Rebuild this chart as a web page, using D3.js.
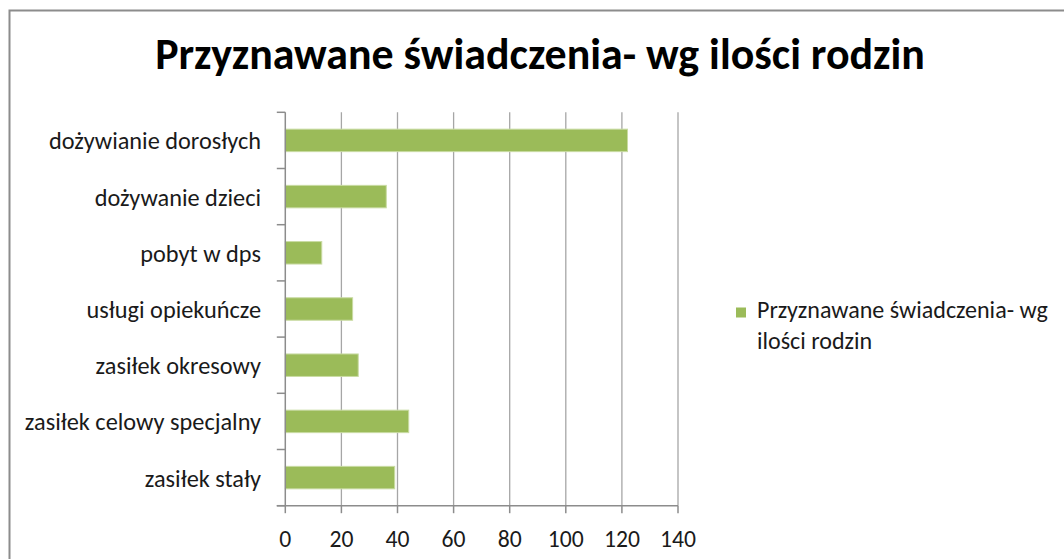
<!DOCTYPE html>
<html>
<head>
<meta charset="utf-8">
<script src="https://cdn.jsdelivr.net/npm/d3@7"></script>
<style>
  html, body { margin: 0; padding: 0; background: #fff; }
  svg { display: block; }
  text { font-family: Carlito, Lato, "Open Sans", sans-serif; }
</style>
</head>
<body>
<svg id="chart" width="1064" height="559"></svg>
<script>
const categories = ["dożywianie dorosłych", "dożywanie dzieci", "pobyt w dps", "usługi opiekuńcze", "zasiłek okresowy", "zasiłek celowy specjalny", "zasiłek stały"];
const values = [122, 36, 13, 24, 26, 44, 39];
const xTicks = [0, 20, 40, 60, 80, 100, 120, 140];
const title = "Przyznawane świadczenia- wg ilości rodzin";
const legendLines = ["Przyznawane świadczenia- wg", "ilości rodzin"];

const svg = d3.select("#chart");
const W = 1064, H = 559;
const plot = { left: 285.3, right: 678, top: 112.3, bottom: 505.7 };

// fit font size so that text matches target width
function fitSize(str, target, weight, base) {
  const t = svg.append("text").attr("font-size", base).attr("font-weight", weight).text(str);
  const w = t.node().getComputedTextLength();
  t.remove();
  return base * target / w;
}

// chart border
svg.append("path")
  .attr("d", `M9.5,${H} L9.5,10.5 L${W},10.5`)
  .attr("fill", "none").attr("stroke", "#8c8c8c").attr("stroke-width", 2);

const x = d3.scaleLinear().domain([0, 140]).range([plot.left, plot.right]);
const y = d3.scaleBand().domain(categories).range([plot.top, plot.bottom]).padding(0);

// grid lines
svg.append("g").selectAll("line").data(xTicks.filter(d => d > 0)).join("line")
  .attr("x1", d => x(d)).attr("x2", d => x(d))
  .attr("y1", plot.top).attr("y2", plot.bottom)
  .attr("stroke", "#a6a6a6").attr("stroke-width", 1.3);

// bars
svg.append("g").selectAll("rect").data(values).join("rect")
  .attr("x", x(0))
  .attr("y", (d, i) => y(categories[i]) + y.bandwidth() * 0.3)
  .attr("width", d => x(d) - x(0))
  .attr("height", y.bandwidth() * 0.4)
  .attr("fill", "#9bbb59")
  .attr("stroke", "#c9dba3").attr("stroke-width", 1);

// y axis line and ticks
const axisColor = "#8c8c8c";
svg.append("line").attr("x1", x(0)).attr("x2", x(0)).attr("y1", plot.top).attr("y2", plot.bottom)
  .attr("stroke", axisColor).attr("stroke-width", 1.5);
const yBounds = categories.map(c => y(c)).concat([plot.bottom]);
svg.append("g").selectAll("line").data(yBounds).join("line")
  .attr("x1", x(0) - 8.5).attr("x2", x(0)).attr("y1", d => d).attr("y2", d => d)
  .attr("stroke", axisColor).attr("stroke-width", 1.5);

// x axis line and ticks
svg.append("line").attr("x1", x(0) - 8.5).attr("x2", x(140)).attr("y1", plot.bottom).attr("y2", plot.bottom)
  .attr("stroke", axisColor).attr("stroke-width", 1.5);
svg.append("g").selectAll("line").data(xTicks).join("line")
  .attr("x1", d => x(d)).attr("x2", d => x(d)).attr("y1", plot.bottom).attr("y2", plot.bottom + 7.5)
  .attr("stroke", axisColor).attr("stroke-width", 1.5);

// tick labels
const tickSize = fitSize("140", 36, "normal", 20);
svg.append("g").selectAll("text").data(xTicks).join("text")
  .attr("x", d => x(d)).attr("y", 547)
  .attr("text-anchor", "middle").attr("font-size", tickSize).attr("fill", "#1a1a1a")
  .text(d => d);

// category labels
const catSize = fitSize(categories[0], 212, "normal", 20);
svg.append("g").selectAll("text").data(categories).join("text")
  .attr("x", 261).attr("y", d => y(d) + y.bandwidth() / 2 + 9)
  .attr("text-anchor", "end").attr("font-size", catSize).attr("fill", "#1a1a1a")
  .text(d => d);

// title
const titleSize = fitSize(title, 770, "bold", 36);
svg.append("text").attr("x", 540).attr("y", 69).attr("text-anchor", "middle")
  .attr("font-size", titleSize).attr("font-weight", "bold").attr("fill", "#000")
  .text(title);

// legend
svg.append("rect").attr("x", 736).attr("y", 307.5).attr("width", 10).attr("height", 10).attr("fill", "#9bbb59");
const legSize = fitSize(legendLines[0], 291, "normal", 20);
svg.append("g").selectAll("text").data(legendLines).join("text")
  .attr("x", 757).attr("y", (d, i) => 318 + i * Math.ceil(legSize * 1.25))
  .attr("font-size", legSize).attr("fill", "#1a1a1a")
  .text(d => d);
</script>
</body>
</html>
